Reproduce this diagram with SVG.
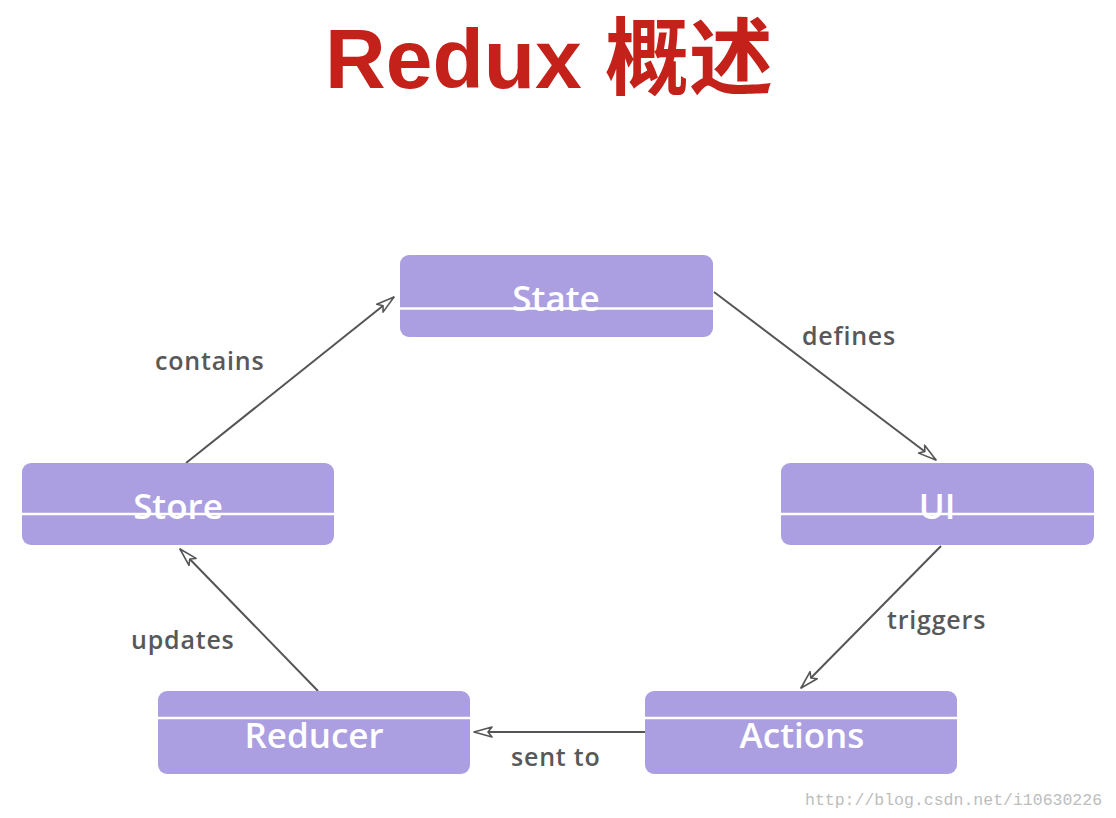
<svg xmlns="http://www.w3.org/2000/svg" width="1116" height="818" viewBox="0 0 1116 818">
<style>
.box{fill:#ab9fe1}
.sep{stroke:#ffffff;stroke-width:2.5}
.nt{font-family:"Open Sans","Noto Sans",sans-serif;font-weight:600;font-size:35px;fill:#ffffff;text-anchor:middle}
.lb{font-family:"Open Sans","Noto Sans",sans-serif;font-weight:600;font-size:25px;letter-spacing:0.8px;fill:#585858}
.edge{stroke:#555555;stroke-width:2;fill:none;marker-end:url(#arr)}
</style>
<defs>
<marker id="arr" viewBox="0 0 20 12" refX="19" refY="6" markerWidth="20" markerHeight="12" markerUnits="userSpaceOnUse" orient="auto">
<path d="M1,1 L19,6 L1,11 L5,6 Z" fill="#ffffff" stroke="#555555" stroke-width="1.6" stroke-linejoin="round"/>
</marker>
</defs>
<rect width="1116" height="818" fill="#ffffff"/>
<text x="325" y="88" font-family="'Liberation Sans','Noto Sans CJK SC',sans-serif" font-weight="bold" font-size="84" fill="#c4211b">Redux 概述</text>

<g id="connectors">
<line class="edge" x1="186" y1="463" x2="394" y2="297"/>
<line class="edge" x1="714" y1="292" x2="936" y2="460"/>
<line class="edge" x1="941" y1="546" x2="801" y2="688"/>
<line class="edge" x1="645" y1="732" x2="474" y2="732"/>
<line class="edge" x1="318" y1="691" x2="180" y2="549"/>
<text class="lb" x="155" y="370">contains</text>
<text class="lb" x="802" y="345">defines</text>
<text class="lb" x="887" y="629">triggers</text>
<text class="lb" x="131" y="649">updates</text>
<text class="lb" x="511" y="766">sent to</text>
</g>

<g id="state">
<rect class="box" x="400" y="255" width="313" height="82" rx="9"/>
<text class="nt" x="556" y="311">State</text>
<line class="sep" x1="400" y1="308.5" x2="713" y2="308.5"/>
</g>
<g id="store">
<rect class="box" x="22" y="463" width="312" height="82" rx="9"/>
<text class="nt" x="178" y="519">Store</text>
<line class="sep" x1="22" y1="514" x2="334" y2="514"/>
</g>
<g id="ui">
<rect class="box" x="781" y="463" width="313" height="82" rx="9"/>
<text class="nt" x="937" y="519">UI</text>
<line class="sep" x1="781" y1="514" x2="1094" y2="514"/>
</g>
<g id="reducer">
<rect class="box" x="158" y="691" width="312" height="83" rx="9"/>
<line class="sep" x1="158" y1="718" x2="470" y2="718"/>
<text class="nt" x="314" y="748">Reducer</text>
</g>
<g id="actions">
<rect class="box" x="645" y="691" width="312" height="83" rx="9"/>
<line class="sep" x1="645" y1="718" x2="957" y2="718"/>
<text class="nt" x="802" y="748">Actions</text>
</g>

<text x="805" y="805" font-family="'Liberation Mono',monospace" font-size="16.5" fill="#bdbdbd">http://blog.csdn.net/i10630226</text>
</svg>
